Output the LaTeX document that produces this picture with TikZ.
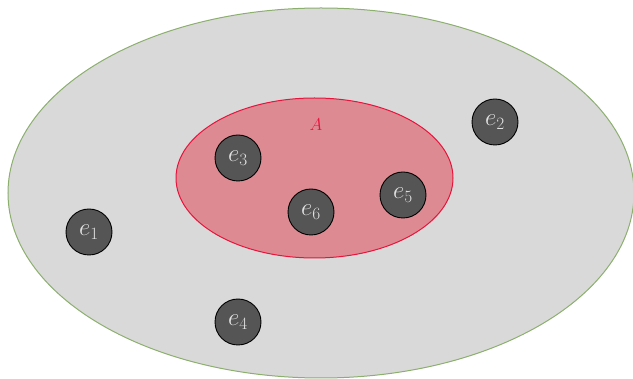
\documentclass[tikz,border=0pt]{standalone}
\usetikzlibrary{shapes.geometric}
\begin{document}
\begin{tikzpicture}[x=1pt,y=-1pt,
  elem/.style={circle,draw=black,line width=0.9pt,fill=elemgray,minimum size=46pt,inner sep=0pt,text=elemtext,font=\fontsize{23}{26}\selectfont},
]
\definecolor{biggray}{RGB}{217,217,217}
\definecolor{biggreen}{RGB}{140,175,110}
\definecolor{setfill}{RGB}{222,138,146}
\definecolor{setline}{RGB}{232,20,60}
\definecolor{elemgray}{RGB}{85,85,85}
\definecolor{elemtext}{RGB}{225,225,225}
\useasboundingbox (0,0) rectangle (633,379);
\begin{scope}
\clip (0,0) rectangle (633,379);
\node[ellipse,draw=biggreen,fill=biggray,line width=1pt,minimum width=626pt,minimum height=370pt,inner sep=0pt] (U) at (321,193) {};
\end{scope}
\node[ellipse,draw=setline,fill=setfill,line width=1pt,minimum width=277pt,minimum height=160pt,inner sep=0pt] (A) at (314.5,178) {};
\node[text=setline,font=\fontsize{19}{22}\selectfont] (Alabel) at (316,125) {$A$};
\node[elem] (e1) at (89,232) {$e_1$};
\node[elem] (e2) at (495,122) {$e_2$};
\node[elem] (e3) at (238,158) {$e_3$};
\node[elem] (e4) at (238,322) {$e_4$};
\node[elem] (e5) at (403,195) {$e_5$};
\node[elem] (e6) at (311,212) {$e_6$};
\end{tikzpicture}
\end{document}
